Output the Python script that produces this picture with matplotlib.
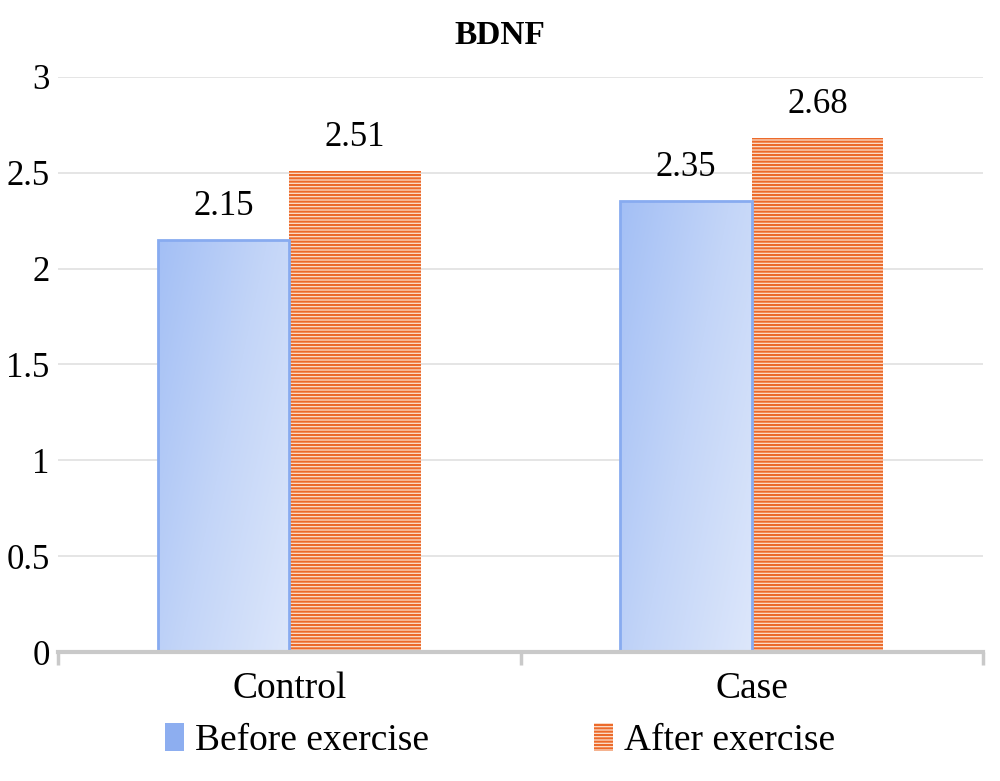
import numpy as np
import matplotlib.pyplot as plt
from matplotlib.patches import Patch
from matplotlib.colors import LinearSegmentedColormap

categories = ['Control', 'Case']
before = [2.15, 2.35]
after = [2.51, 2.68]
series_names = ['Before exercise', 'After exercise']
yticks = [0, 0.5, 1, 1.5, 2, 2.5, 3]

plt.rcParams['font.family'] = ['Liberation Serif', 'DejaVu Serif']
plt.rcParams['hatch.linewidth'] = 1.5

fig = plt.figure(figsize=(10, 7.81), dpi=100)
ax = fig.add_axes([0.058, 0.165, 0.925, 0.7366])

x = np.arange(len(categories))
w = 0.284
blue_cmap = LinearSegmentedColormap.from_list('b', ['#A3BFF5', '#C3D5F8', '#DDE7FB'])

bars_b = ax.bar(x - w / 2, before, w, color='none', edgecolor='#88ABF0',
                linewidth=2, zorder=4)
for b in bars_b:
    x0, y0 = b.get_x(), b.get_y()
    bw, bh = b.get_width(), b.get_height()
    gx, gy = np.meshgrid(np.linspace(0, 1, 200), np.linspace(0, 1, 200))
    grad = 0.6 * gx + 0.4 * gy
    im = ax.imshow(grad, cmap=blue_cmap, extent=[x0, x0 + bw, y0, y0 + bh],
                   origin='upper', aspect='auto', zorder=3, interpolation='bilinear')
    im.set_clip_path(b)

bars_a = ax.bar(x + w / 2, after, w, facecolor='#FCE0CE', edgecolor='#EC6A2A',
                linewidth=0, hatch='-----', zorder=3)

for xi, v in zip(x - w / 2, before):
    ax.text(xi, v + 0.09, f'{v:.2f}', ha='center', va='bottom', fontsize=25)
for xi, v in zip(x + w / 2, after):
    ax.text(xi, v + 0.09, f'{v:.2f}', ha='center', va='bottom', fontsize=25)

ax.set_xlim(-0.5, 1.5)
ax.set_ylim(0, 3)
ax.set_yticks(yticks)
ax.set_yticklabels([f'{t:g}' for t in yticks], fontsize=25)
ax.set_xticks(x)
ax.set_xticklabels(categories, fontsize=27)
ax.set_xticks([-0.5, 0.5, 1.5], minor=True)
ax.tick_params(axis='x', which='major', length=0, pad=14)
ax.tick_params(axis='x', which='minor', length=9, width=2.5, color='#C9C9C9')
ax.tick_params(axis='y', length=0, pad=6)
ax.grid(axis='y', color='#E3E3E3', linewidth=1.3, zorder=0)

for s in ['top', 'right', 'left']:
    ax.spines[s].set_visible(False)
ax.spines['bottom'].set_color('#C9C9C9')
ax.spines['bottom'].set_linewidth(3)
ax.spines['bottom'].set_zorder(5)

fig.text(0.5, 0.955, 'BDNF', ha='center', va='center', fontsize=24, fontweight='bold')

handles = [Patch(facecolor='#8DAEF0', edgecolor='none'),
           Patch(facecolor='#FCE0CE', edgecolor='#EC6A2A', linewidth=0, hatch='-----')]
fig.legend(handles, series_names, loc='center', bbox_to_anchor=(0.5, 0.052),
           ncol=2, frameon=False, fontsize=27, handlelength=0.5, handleheight=0.8,
           handletextpad=0.3, columnspacing=4.4)

fig.savefig('out.png', dpi=100)
